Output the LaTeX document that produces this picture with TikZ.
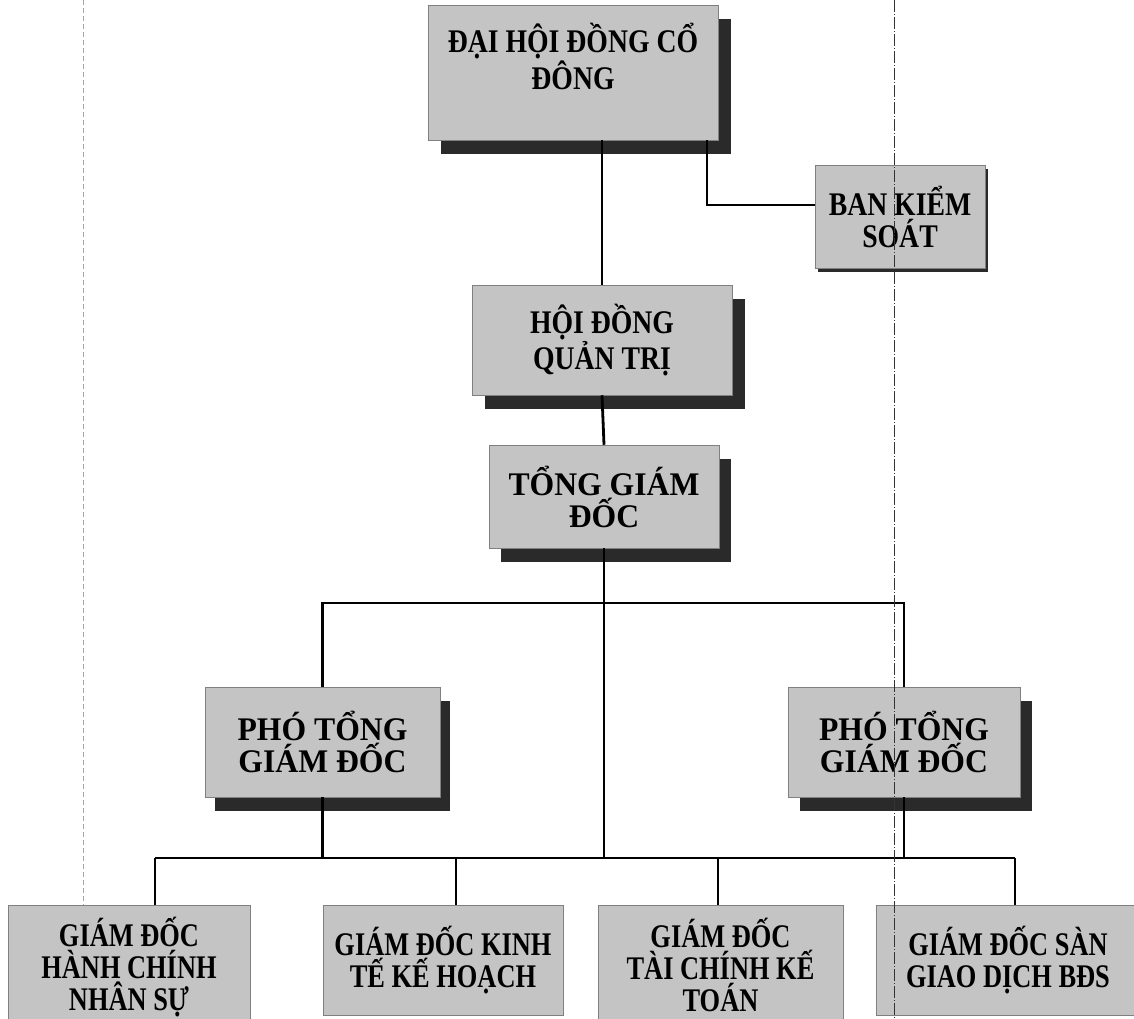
\documentclass[tikz,border=0pt]{standalone}
\usepackage{fontspec}
\setmainfont{Liberation Serif}
\newfontfamily\wideface[FakeStretch=0.96]{Liberation Serif}
\newfontfamily\midface[FakeStretch=0.84]{Liberation Serif}
\newfontfamily\narrowface[FakeStretch=0.8]{Liberation Serif}
\usetikzlibrary{shadows}

\definecolor{boxgray}{RGB}{196,196,196}
\definecolor{shadowgray}{RGB}{42,42,42}

\tikzset{
  orgbox/.style={fill=boxgray, draw=black!50, line width=0.5pt, inner sep=2pt,
    align=center, font=#1\bfseries\fontsize{33}{32}\selectfont},
  orgbox/.default=\midface,
  shadowed/.style={drop shadow={shadow xshift=#1, shadow yshift=-14pt,
    fill=shadowgray, opacity=1}},
  link/.style={line width=2.8pt, black},
  guide/.style={line width=0.7pt}
}

\begin{document}
\begin{tikzpicture}[x=1pt, y=-1pt]
\useasboundingbox (0,0) rectangle (1134,1018);
\clip (0,0) rectangle (1134,1018);

% top of the chart
\node[orgbox, shadowed=13pt, minimum width=290, minimum height=135,
  label={[orgbox, fill=none, draw=none, yshift=16pt]center:{ĐẠI HỘI ĐỒNG CỔ\\ĐÔNG}}] (dhcd) at (573,72.5) {};
\node[orgbox, drop shadow={shadow xshift=3pt, shadow yshift=-4pt, fill=shadowgray, opacity=1},
  minimum width=170, minimum height=103] (bks) at (900,216.5) {BAN KIỂM\\SOÁT};
\node[orgbox, shadowed=13pt, minimum width=260, minimum height=110] (hdqt) at (602,340) {HỘI ĐỒNG\\QUẢN TRỊ};
\node[orgbox=\wideface, shadowed=12pt, minimum width=230, minimum height=103] (tgd) at (604,496.5) {TỔNG GIÁM\\ĐỐC};

% deputies
\node[orgbox=\wideface, shadowed=10pt, minimum width=235, minimum height=110] (pho1) at (322.5,742) {PHÓ TỔNG\\GIÁM ĐỐC};
\node[orgbox=\wideface, shadowed=12pt, minimum width=232, minimum height=110] (pho2) at (904,742) {PHÓ TỔNG\\GIÁM ĐỐC};

% directors
\node[orgbox=\narrowface, minimum width=242, minimum height=124] (gd1) at (129,967) {GIÁM ĐỐC\\HÀNH CHÍNH\\NHÂN SỰ};
\node[orgbox=\narrowface, minimum width=240, minimum height=110] (gd2) at (443,960) {GIÁM ĐỐC KINH\\TẾ KẾ HOẠCH};
\node[orgbox=\narrowface, minimum width=245, minimum height=120] (gd3) at (720.5,965) {GIÁM ĐỐC\\TÀI CHÍNH KẾ\\TOÁN};
\node[orgbox=\narrowface, minimum width=264, minimum height=110] (gd4) at (1008,960) {GIÁM ĐỐC SÀN\\GIAO DỊCH BĐS};

% junctions
\coordinate (bksj) at (707,205);
\coordinate (bust) at (604,603);
\coordinate (busb) at (604,858);
\coordinate (d1) at (155,858);
\coordinate (d2) at (456,858);
\coordinate (d3) at (718,858);
\coordinate (d4) at (1015,858);

\draw[link] (dhcd.south -| hdqt.north) -- (hdqt.north);
\draw[link] (dhcd.south -| bksj) -- (bksj) -- (bksj -| bks.west);
\draw[link] (hdqt.south) -- (tgd.north);
\draw[link] (tgd.south) -- (busb);
\draw[link] (pho1.north) |- (bust) -| (pho2.north);
\draw[link] (pho1.south) -- (pho1.south |- busb);
\draw[link] (pho2.south) -- (pho2.south |- busb);
\draw[link] (d1) -- (d4);
\foreach \d/\g in {d1/gd1, d2/gd2, d3/gd3, d4/gd4}
  \draw[link] (\d) -- (\d |- \g.north);

% scan guides
\coordinate (gl1) at (83,0);
\coordinate (gr1) at (894,0);
\draw[guide, gray!70, dash pattern=on 5pt off 3pt] (gl1) -- (gl1 |- gd1.north);
\draw[guide, black!80, dash pattern=on 12pt off 2pt on 1pt off 2pt] (gr1) -- (894,1018);
\end{tikzpicture}
\end{document}
